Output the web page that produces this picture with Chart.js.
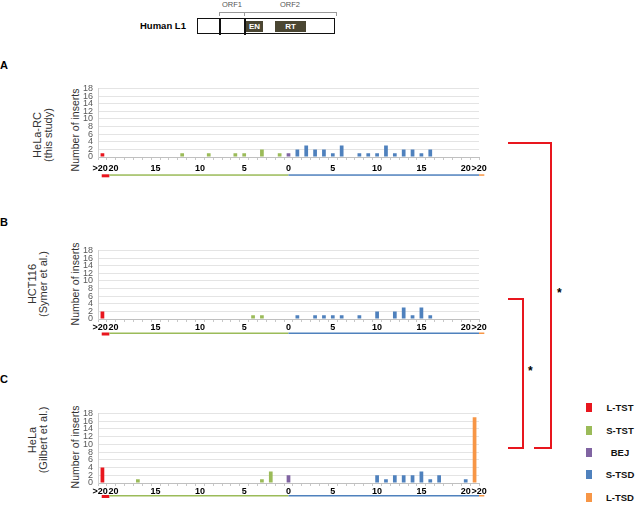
<!DOCTYPE html>
<html>
<head>
<meta charset="utf-8">
<script src="https://cdn.jsdelivr.net/npm/chart.js@4.4.1/dist/chart.umd.min.js"></script>
<style>
  body { margin: 0; background: #fff; font-family: "Liberation Sans", Arial, sans-serif; }
  #fig { position: relative; width: 640px; height: 505px; overflow: hidden; background: #fff; }
  .abs { position: absolute; }
  .rot { position: absolute; transform: translate(-50%, -50%) rotate(-90deg); white-space: nowrap; text-align: center; color: #333; }
  .letter { position: absolute; left: 0; font-weight: bold; font-size: 11px; line-height: 11px; }
  .line { position: absolute; background: #e8161e; }
  .leg { position: absolute; left: 586px; width: 6px; height: 9px; }
  .legtxt { position: absolute; left: 600px; width: 40px; text-align: center; font-weight: bold; font-size: 9.5px; line-height: 10px; color: #111; }
  canvas { position: absolute; left: 60px; }
</style>
</head>
<body>
<div id="fig">
  <!-- L1 element diagram -->
  <div class="abs" style="left:214px;top:0;width:36px;text-align:center;font-size:7.5px;color:#555">ORF1</div>
  <div class="abs" style="left:272px;top:0;width:36px;text-align:center;font-size:7.5px;color:#555">ORF2</div>
  <div class="abs" style="left:219px;top:12px;width:116px;height:3px;border:1px solid #999;border-bottom:none"></div>
  <div class="abs" style="left:244px;top:12px;width:1px;height:4px;background:#999"></div>
  <div class="abs" style="left:140px;top:20px;font-weight:bold;font-size:9.5px">Human L1</div>
  <div class="abs" style="left:197px;top:18px;width:136px;height:14px;border:1.5px solid #111"></div>
  <div class="abs" style="left:219px;top:18px;width:1.5px;height:17px;background:#111"></div>
  <div class="abs" style="left:244px;top:18px;width:1.5px;height:17px;background:#111"></div>
  <div class="abs" style="left:246px;top:21px;width:17px;height:11px;background:#4a4632;color:#fff;font-weight:bold;font-size:8px;line-height:11px;text-align:center">EN</div>
  <div class="abs" style="left:275px;top:21px;width:31px;height:11px;background:#4a4632;color:#fff;font-weight:bold;font-size:8px;line-height:11px;text-align:center">RT</div>

  <!-- panel letters and side titles -->
  <div class="letter" style="top:60px">A</div>
  <div class="letter" style="top:217px">B</div>
  <div class="letter" style="top:374px">C</div>

  <div class="rot" style="left:42px;top:135px;font-size:11px;line-height:10.5px">HeLa-RC<br>(this study)</div>
  <div class="rot" style="left:38px;top:284px;font-size:11px;line-height:11px">HCT116<br>(Symer et al.)</div>
  <div class="rot" style="left:38px;top:440px;font-size:11px;line-height:11px">HeLa<br>(Gilbert et al.)</div>

  <div class="rot" style="left:75px;top:130px;font-size:10.5px">Number of inserts</div>
  <div class="rot" style="left:75px;top:284px;font-size:10.5px">Number of inserts</div>
  <div class="rot" style="left:75px;top:447px;font-size:10.5px">Number of inserts</div>

  <canvas id="chartA" width="440" height="101" style="top:78px;width:440px;height:101px"></canvas>
  <canvas id="chartB" width="440" height="101" style="top:240px;width:440px;height:101px"></canvas>
  <canvas id="chartC" width="440" height="102" style="top:403px;width:440px;height:102px"></canvas>

  <!-- significance brackets -->
  <div class="line" style="left:508px;top:142px;width:44px;height:2px"></div>
  <div class="line" style="left:550px;top:142px;width:2px;height:307px"></div>
  <div class="line" style="left:534px;top:447px;width:18px;height:2px"></div>
  <div class="line" style="left:508px;top:298px;width:16px;height:2px"></div>
  <div class="line" style="left:522px;top:298px;width:2px;height:151px"></div>
  <div class="line" style="left:508px;top:447px;width:16px;height:2px"></div>
  <div class="abs" style="left:557px;top:286px;font-size:12px;font-weight:bold">*</div>
  <div class="abs" style="left:528px;top:364px;font-size:12px;font-weight:bold">*</div>

  <div id="legend"></div>
</div>

<script>
const categories = ['>20', '20', '19', '18', '17', '16', '15', '14', '13', '12', '11',
  '10', '9', '8', '7', '6', '5', '4', '3', '2', '1', '0',
  '1', '2', '3', '4', '5', '6', '7', '8', '9', '10', '11', '12', '13', '14', '15',
  '16', '17', '18', '19', '20', '>20'];
const shownTickIndex = [0, 1, 6, 11, 16, 21, 26, 31, 36, 41, 42];

const seriesNames  = ['L-TST', 'S-TST', 'BEJ', 'S-TSD', 'L-TSD'];
const seriesColors = ['#e8161e', '#9bbb59', '#8064a2', '#4f81bd', '#f79646'];

// number of inserts per position, left >20 ... 0 ... right >20
const helaRC = [1, 0, 0, 0, 0, 0, 0, 0, 0, 1, 0, 0, 1, 0, 0, 1, 1, 0, 2, 0, 1,
  1,
  2, 3, 2, 2, 1, 3, 0, 1, 1, 1, 3, 1, 2, 2, 1, 2, 0, 0, 0, 0, 0];
const hct116 = [2, 0, 0, 0, 0, 0, 0, 0, 0, 0, 0, 0, 0, 0, 0, 0, 0, 1, 1, 0, 0,
  0,
  1, 0, 1, 1, 1, 1, 0, 1, 0, 2, 0, 2, 3, 1, 3, 1, 0, 0, 0, 0, 0];
const helaGilbert = [4, 0, 0, 0, 1, 0, 0, 0, 0, 0, 0, 0, 0, 0, 0, 0, 0, 0, 1, 3, 0,
  2,
  0, 0, 0, 0, 0, 0, 0, 0, 0, 2, 1, 2, 2, 2, 3, 1, 2, 0, 0, 1, 17];

const yMax = 18, yStep = 2;

/* which series a position belongs to */
function seriesOf(i) {
  if (i === 0) return 0;
  if (i < 21) return 1;
  if (i === 21) return 2;
  if (i < 42) return 3;
  return 4;
}

/* the end labels sit a little apart, like the original */
const EN = '\u2002';
function tickText(i) {
  if (!shownTickIndex.includes(i)) return '';
  if (i === 0) return categories[i] + EN;
  if (i === 1) return EN + categories[i];
  if (i === 42) return EN + EN + categories[i];
  return categories[i];
}

/* coloured strips under the x labels */
const axisStrips = {
  id: 'axisStrips',
  afterDraw(chart, args, opts) {
    const x = chart.scales.x, ctx = chart.ctx;
    const y = x.top + opts.offset;
    const strips = [
      [-0.08, 0.78, 0, 3],
      [0.78, 21, 1, 1.5],
      [21, 42.5, 3, 1.5],
      [42.5, 43.1, 4, 1.5],
    ];
    ctx.save();
    strips.forEach(([a, b, s, w]) => {
      ctx.fillStyle = seriesColors[s];
      ctx.fillRect(x.getPixelForValue(a), y, x.getPixelForValue(b) - x.getPixelForValue(a), w);
    });
    ctx.restore();
  }
};

function makePanel(id, counts, padTop, tickPad, stripOffset) {
  const datasets = seriesNames.map((name, s) => ({
    label: name,
    data: counts.map((v, i) => seriesOf(i) === s ? v : null),
    backgroundColor: seriesColors[s],
    categoryPercentage: 1,
    barPercentage: 0.42,
  }));
  new Chart(document.getElementById(id), {
    type: 'bar',
    data: { labels: categories, datasets },
    plugins: [axisStrips],
    options: {
      responsive: false, animation: false, devicePixelRatio: 1,
      layout: { padding: { top: padTop, right: 21, left: 0, bottom: 0 } },
      plugins: { legend: { display: false }, tooltip: { enabled: false }, axisStrips: { offset: stripOffset } },
      scales: {
        x: {
          stacked: true,
          grid: { drawOnChartArea: false, color: '#c8c8c8', tickLength: 3 },
          border: { color: '#c0c0c0' },
          ticks: {
            autoSkip: false, maxRotation: 0, padding: tickPad, color: '#000',
            font: { family: 'Liberation Sans', size: 9, weight: 'bold' },
            callback: (v, i) => tickText(i),
          },
          afterFit: s => { s.height = 22; },
        },
        y: {
          stacked: true, min: 0, max: yMax,
          ticks: { stepSize: yStep, autoSkip: false, padding: 5, color: '#595959', font: { family: 'Liberation Sans', size: 9 } },
          grid: { color: '#e4e4e4', drawTicks: false },
          border: { color: '#d4d4d4' },
          afterFit: s => { s.width = 38; },
        },
      },
    },
  });
}

makePanel('chartA', helaRC, 7.5, 3, 17.3);
makePanel('chartB', hct116, 8, 0, 13.5);
makePanel('chartC', helaGilbert, 8, 0, 12);

/* legend */
const legendTops = [403, 426, 448, 470, 493];
const lg = document.getElementById('legend');
seriesNames.forEach((n, s) => {
  lg.innerHTML += `<div class="leg" style="top:${legendTops[s]}px;background:${seriesColors[s]}"></div>
    <div class="legtxt" style="top:${legendTops[s]}px">${n}</div>`;
});
</script>
</body>
</html>
